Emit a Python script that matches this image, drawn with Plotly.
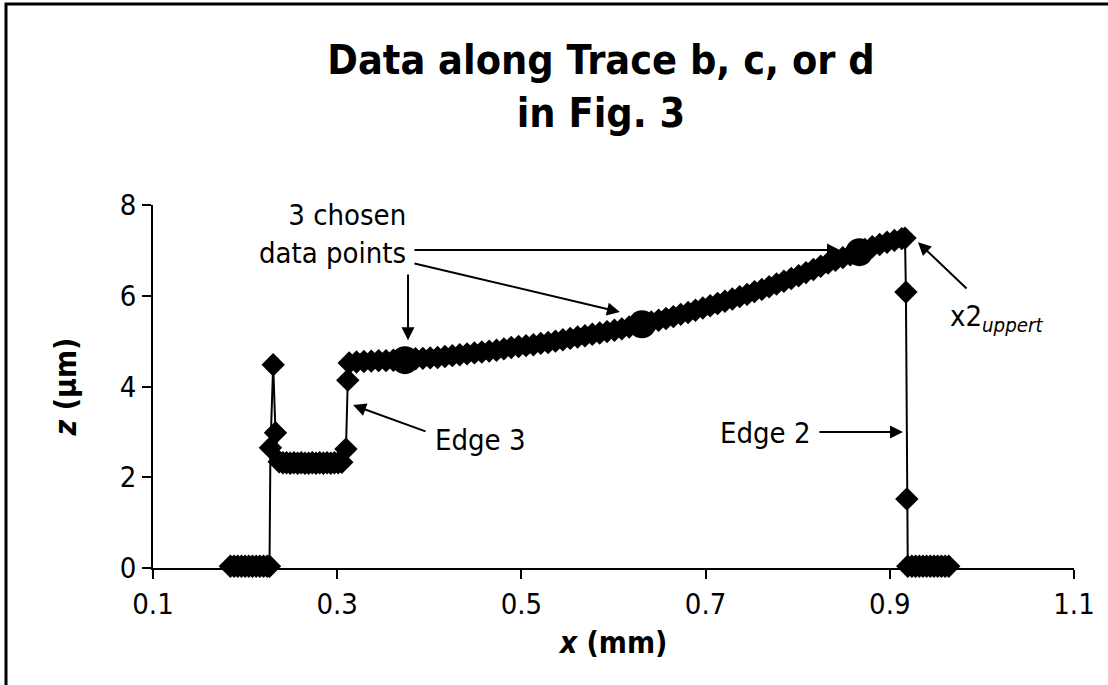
import plotly.graph_objects as go

# ---- data ----
x_base_left = [0.184, 0.188, 0.192, 0.196, 0.200, 0.204, 0.208, 0.212, 0.216, 0.220, 0.224, 0.2265]
z_base_left = [0.04] * len(x_base_left)

x_spike = [0.2275, 0.2305, 0.2330]
z_spike = [2.65, 4.48, 2.98]

x_plateau = [0.237, 0.241, 0.245, 0.249, 0.253, 0.257, 0.261, 0.265, 0.269, 0.273,
             0.277, 0.281, 0.285, 0.289, 0.293, 0.297, 0.301, 0.305]
z_plateau = [2.34, 2.32, 2.32, 2.31, 2.32, 2.31, 2.32, 2.31, 2.31, 2.32,
             2.31, 2.32, 2.31, 2.32, 2.31, 2.32, 2.32, 2.33]

x_edge3 = [0.3095, 0.3115]
z_edge3 = [2.62, 4.14]

x_curve = [0.313, 0.321, 0.329, 0.337, 0.345, 0.353, 0.361, 0.369, 0.377, 0.385,
           0.393, 0.401, 0.409, 0.417, 0.425, 0.433, 0.441, 0.449, 0.457, 0.465,
           0.473, 0.481, 0.489, 0.497, 0.505, 0.513, 0.521, 0.529, 0.537, 0.545,
           0.553, 0.561, 0.569, 0.577, 0.585, 0.593, 0.601, 0.609, 0.617, 0.625,
           0.633, 0.641, 0.649, 0.657, 0.665, 0.673, 0.681, 0.689, 0.697, 0.705,
           0.713, 0.721, 0.729, 0.737, 0.745, 0.753, 0.761, 0.769, 0.777, 0.785,
           0.793, 0.801, 0.809, 0.817, 0.825, 0.833, 0.841, 0.849, 0.857, 0.865,
           0.873, 0.881, 0.889, 0.897, 0.905, 0.913, 0.9165]
z_curve = [4.52, 4.54, 4.55, 4.56, 4.57, 4.57, 4.58, 4.59, 4.60, 4.61,
           4.62, 4.63, 4.64, 4.66, 4.68, 4.70, 4.72, 4.74, 4.76, 4.78,
           4.80, 4.83, 4.86, 4.88, 4.90, 4.92, 4.95, 4.97, 5.00, 5.03,
           5.06, 5.09, 5.12, 5.15, 5.18, 5.21, 5.24, 5.27, 5.31, 5.34,
           5.38, 5.42, 5.46, 5.50, 5.54, 5.59, 5.63, 5.68, 5.73, 5.78,
           5.83, 5.88, 5.93, 5.98, 6.03, 6.09, 6.14, 6.20, 6.26, 6.32,
           6.38, 6.44, 6.51, 6.58, 6.65, 6.72, 6.78, 6.84, 6.90, 6.96,
           7.02, 7.08, 7.13, 7.18, 7.22, 7.26, 7.27]

x_edge2 = [0.9175, 0.9185]
z_edge2 = [6.08, 1.52]

x_base_right = [0.9195, 0.924, 0.928, 0.932, 0.936, 0.940, 0.944, 0.948, 0.952, 0.956, 0.960, 0.964]
z_base_right = [0.04] * len(x_base_right)

x_chosen = [0.3736, 0.631, 0.867]
z_chosen = [4.58, 5.37, 6.96]

x_ticks = [0.1, 0.3, 0.5, 0.7, 0.9, 1.1]
z_ticks = [0, 2, 4, 6, 8]

x_all = x_base_left + x_spike + x_plateau + x_edge3 + x_curve + x_edge2 + x_base_right
z_all = z_base_left + z_spike + z_plateau + z_edge3 + z_curve + z_edge2 + z_base_right

FONT = "DejaVu Sans Condensed, DejaVu Sans, sans-serif"

fig = go.Figure()
fig.add_trace(go.Scatter(
    x=x_all, y=z_all, mode="lines+markers",
    line=dict(color="black", width=2),
    marker=dict(symbol="diamond", size=18, color="black", line=dict(width=0)),
    cliponaxis=False, showlegend=False, hoverinfo="skip"))
fig.add_trace(go.Scatter(
    x=x_chosen, y=z_chosen, mode="markers",
    marker=dict(symbol="circle", size=28, color="black", line=dict(width=0)),
    cliponaxis=False, showlegend=False, hoverinfo="skip"))

arrow_style = dict(showarrow=True, arrowhead=2, arrowsize=1.3, arrowwidth=2,
                   arrowcolor="black", axref="x", ayref="y", text="", xref="x", yref="y")
annotations = [
    # 3 chosen data points arrows
    dict(x=0.3769, y=5.02, ax=0.3769, ay=6.50, **arrow_style),
    dict(x=0.607, y=5.64, ax=0.3823, ay=6.72, **arrow_style),
    dict(x=0.8459, y=7.01, ax=0.3823, ay=7.01, **arrow_style),
    # Edge 3
    dict(x=0.3172, y=3.59, ax=0.3975, ay=3.00, **arrow_style),
    # Edge 2
    dict(x=0.9143, y=3.0, ax=0.822, ay=3.0, **arrow_style),
    # x2 uppert
    dict(x=0.9306, y=7.18, ax=0.985, ay=6.13, **arrow_style),
    # texts
    dict(x=0.3769, y=7.36, xref="x", yref="y", text="3 chosen<br>data points",
         showarrow=False, xanchor="right", yanchor="middle", align="right",
         font=dict(size=29, color="black", family=FONT)),
    dict(x=0.4035, y=2.82, xref="x", yref="y", text="Edge 3",
         showarrow=False, xanchor="left", yanchor="middle",
         font=dict(size=29, color="black", family=FONT)),
    dict(x=0.8166, y=2.975, xref="x", yref="y", text="Edge 2",
         showarrow=False, xanchor="right", yanchor="middle",
         font=dict(size=29, color="black", family=FONT)),
    dict(x=0.963, y=5.5, xref="x", yref="y", text="x2<sub><i>uppert</i></sub>",
         showarrow=False, xanchor="left", yanchor="middle",
         font=dict(size=29, color="black", family=FONT)),
]

fig.update_layout(
    width=1108, height=685,
    margin=dict(l=153, r=34, t=205, b=117),
    paper_bgcolor="white", plot_bgcolor="white",
    font=dict(family=FONT, color="black", size=29),
    title=dict(text="<b>Data along Trace b, c, or d<br>in Fig. 3</b>",
               x=0.4864, xref="paper", xanchor="center",
               y=1 - 74 / 685, yref="container", yanchor="top",
               font=dict(size=41, family=FONT, color="black")),
    annotations=annotations,
    shapes=[dict(type="rect", xref="paper", yref="paper",
                 x0=-0.1596, x1=1.2, y0=-0.4, y1=1.5537,
                 line=dict(color="black", width=3), layer="above")],
)
fig.update_xaxes(range=[0.1, 1.1], tickvals=x_ticks, ticktext=[f"{v:.1f}" for v in x_ticks],
                 showgrid=False, zeroline=False, showline=True, linecolor="black", linewidth=1.5,
                 ticks="outside", ticklen=9, tickwidth=1.5, tickcolor="black",
                 tickfont=dict(size=29, family=FONT, color="black"),
                 title=dict(text="<b><i>x</i> (mm)</b>", standoff=12,
                            font=dict(size=30, family=FONT, color="black")))
fig.update_yaxes(range=[0, 8], tickvals=z_ticks,
                 showgrid=False, zeroline=False, showline=True, linecolor="black", linewidth=1.5,
                 ticks="outside", ticklen=9, tickwidth=1.5, tickcolor="black",
                 tickfont=dict(size=29, family=FONT, color="black"),
                 title=dict(text="<b><i>z</i> (µm)</b>", standoff=34,
                            font=dict(size=30, family=FONT, color="black")))

fig.write_html("out.html", config={"displayModeBar": False},
               post_script="document.body.style.margin='0px';document.body.style.overflow='hidden';")
